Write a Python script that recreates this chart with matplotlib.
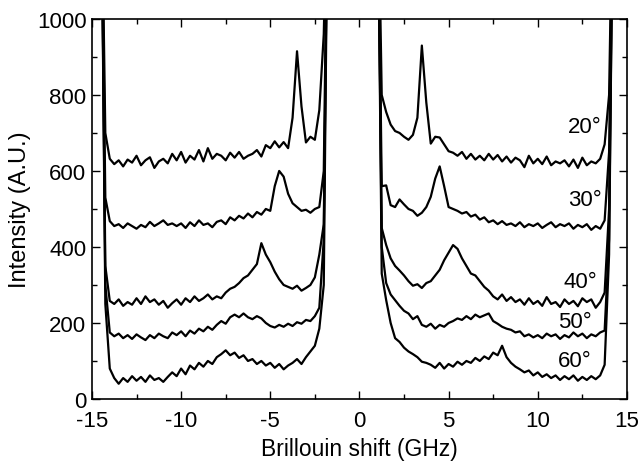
import numpy as np
import matplotlib
matplotlib.use("Agg")
import matplotlib.pyplot as plt
from matplotlib.ticker import MultipleLocator

plt.rcParams['font.family'] = ['Liberation Sans', 'DejaVu Sans']

# Sampling positions (GHz)
x_left = np.arange(-14.5, -1.75 + 0.001, 0.25)   # 52 points
x_right = np.arange(1.0, 14.25 + 0.001, 0.25)    # 54 points

angles = ["20°", "30°", "40°", "50°", "60°"]

s20_left = [1500, 700, 632, 618, 628, 612, 630, 622, 640, 615, 628, 636, 608, 625, 632, 620,
            645, 628, 650, 622, 640, 630, 655, 625, 660, 632, 645, 640, 628, 648, 635, 650,
            632, 640, 645, 655, 638, 668, 660, 678, 662, 676, 660, 740, 915, 770, 675, 690,
            682, 760, 960, 1500]
s20_right = [1500, 800, 755, 722, 705, 700, 690, 682, 695, 740, 930, 780, 672, 690, 688, 670,
             652, 648, 640, 650, 632, 645, 630, 640, 628, 645, 630, 642, 625, 638, 622, 635,
             628, 610, 640, 620, 632, 618, 638, 615, 625, 620, 628, 612, 630, 608, 635, 615,
             625, 620, 632, 670, 800, 1500]

s30_left = [1500, 530, 468, 455, 460, 450, 462, 455, 448, 458, 452, 466, 455, 462, 470, 458,
            462, 455, 462, 450, 465, 455, 470, 458, 462, 452, 466, 470, 460, 478, 470, 482,
            475, 488, 478, 492, 485, 500, 495, 560, 600, 585, 540, 515, 505, 495, 498, 490,
            500, 505, 600, 1500]
s30_right = [1500, 560, 562, 510, 505, 525, 512, 500, 495, 482, 490, 505, 532, 580, 612, 560,
             505, 500, 495, 488, 492, 480, 485, 472, 478, 465, 470, 460, 468, 458, 462, 455,
             465, 452, 460, 455, 462, 450, 458, 465, 452, 460, 455, 462, 448, 458, 452, 460,
             445, 455, 448, 470, 650, 1500]

s40_left = [1500, 350, 258, 250, 262, 245, 255, 248, 265, 250, 270, 255, 262, 248, 258, 240,
            252, 262, 248, 265, 255, 270, 258, 265, 275, 262, 270, 265, 280, 290, 295, 305,
            318, 325, 340, 355, 410, 380, 360, 335, 315, 300, 295, 290, 298, 285, 292, 300,
            320, 380, 460, 1500]
s40_right = [1500, 450, 405, 370, 350, 338, 325, 310, 298, 302, 292, 305, 310, 325, 340, 365,
             385, 405, 395, 370, 350, 330, 325, 310, 295, 285, 270, 262, 275, 258, 268, 255,
             262, 248, 265, 250, 258, 245, 268, 250, 255, 242, 262, 250, 258, 244, 265, 255,
             262, 240, 255, 280, 500, 1500]

s50_left = [1500, 300, 175, 165, 172, 160, 168, 158, 170, 162, 155, 168, 160, 172, 165, 160,
            175, 168, 178, 165, 180, 172, 185, 178, 190, 182, 195, 205, 198, 215, 222, 215,
            225, 215, 210, 218, 212, 200, 192, 188, 195, 190, 198, 192, 202, 198, 208, 205,
            218, 240, 420, 1500]
s50_right = [1500, 400, 305, 275, 260, 245, 232, 225, 210, 218, 195, 190, 198, 185, 195, 190,
             200, 205, 212, 208, 218, 210, 222, 215, 220, 225, 205, 198, 190, 185, 182, 175,
             178, 165, 170, 162, 168, 160, 172, 165, 170, 158, 168, 162, 175, 165, 172, 160,
             170, 165, 175, 180, 420, 1500]

s60_left = [1500, 250, 80, 55, 40, 55, 45, 60, 48, 58, 45, 62, 50, 55, 45, 58,
            70, 60, 80, 65, 88, 78, 95, 85, 100, 92, 110, 118, 128, 115, 122, 108,
            115, 100, 105, 92, 100, 88, 95, 82, 92, 78, 88, 95, 105, 92, 110, 125,
            140, 185, 300, 1500]
s60_right = [1500, 330, 260, 200, 160, 150, 135, 125, 118, 110, 98, 95, 90, 82, 95, 80,
             92, 85, 98, 90, 100, 95, 108, 100, 112, 105, 122, 115, 140, 110, 95, 85,
             78, 70, 75, 62, 70, 58, 65, 55, 62, 50, 60, 52, 62, 48, 58, 50,
             60, 52, 62, 90, 380, 1500]

series_left = [s20_left, s30_left, s40_left, s50_left, s60_left]
series_right = [s20_right, s30_right, s40_right, s50_right, s60_right]
label_pos = [(13.6, 718), (13.6, 526), (13.35, 308), (13.05, 205), (13.0, 100)]

fig = plt.figure(figsize=(6.43, 4.64), dpi=100)
ax = fig.add_axes([0.143, 0.138, 0.832, 0.819])

for yl, yr in zip(series_left, series_right):
    ax.plot(x_left, yl, color='black', lw=1.6)
    ax.plot(x_right, yr, color='black', lw=1.6)

for lab, (lx, ly) in zip(angles, label_pos):
    ax.text(lx, ly, lab, ha='right', va='center', fontsize=16)

ax.set_xlim(-15, 15)
ax.set_ylim(0, 1000)
ax.xaxis.set_major_locator(MultipleLocator(5))
ax.xaxis.set_minor_locator(MultipleLocator(2.5))
ax.yaxis.set_major_locator(MultipleLocator(200))
ax.yaxis.set_minor_locator(MultipleLocator(100))
ax.tick_params(which='both', direction='in', top=True, right=True, labelsize=16, width=1.0)
ax.tick_params(which='major', length=6)
ax.tick_params(axis='x', which='major', pad=8)
ax.tick_params(axis='y', which='major', pad=4)
ax.tick_params(which='minor', length=3.5)
ax.set_xticks([-15, -10, -5, 0, 5, 10, 15])
ax.set_xticklabels(['-15', '-10', '-5', '0', '5', '10', '15'])
for s in ax.spines.values():
    s.set_linewidth(1.2)
ax.set_xlabel('Brillouin shift (GHz)', fontsize=16.5, labelpad=4)
ax.set_ylabel('Intensity (A.U.)', fontsize=17, labelpad=4)

fig.savefig('out.png', dpi=100)
